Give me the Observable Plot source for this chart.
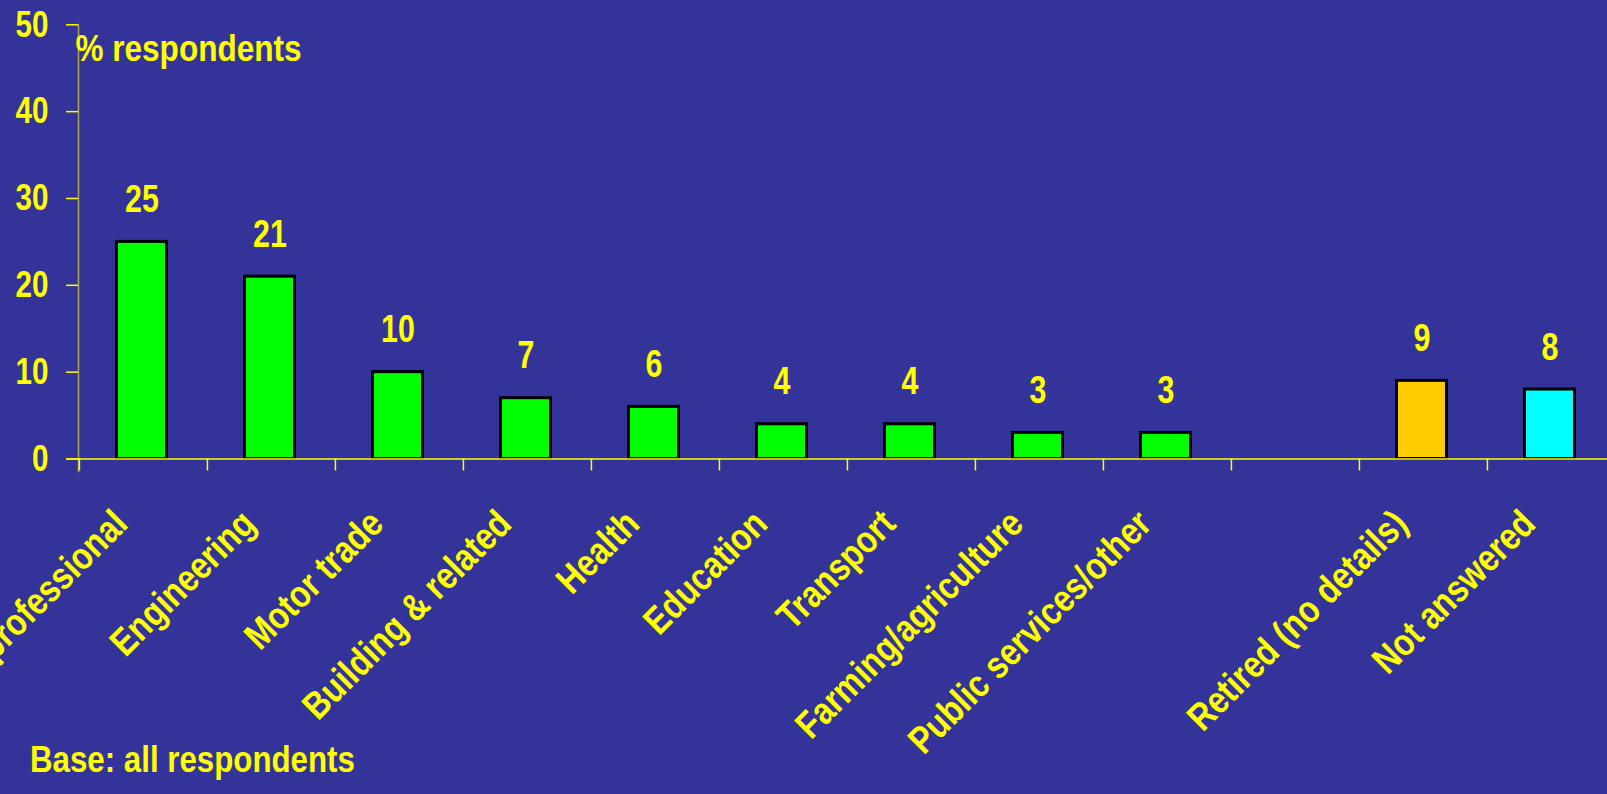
<!DOCTYPE html>
<html><head><meta charset="utf-8">
<script src="https://cdn.jsdelivr.net/npm/d3@7"></script>
<script src="https://cdn.jsdelivr.net/npm/@observablehq/plot@0.6"></script>
<style>
html,body{margin:0;padding:0;background:#333399;}
body{width:1607px;height:794px;overflow:hidden;}
#chart svg{display:block;}
#caption{font-family:"Liberation Sans",Arial,sans-serif;font-weight:bold;font-size:37px;color:#ffff00;line-height:38px;margin-left:30px;white-space:nowrap;display:inline-block;transform:scaleX(0.845);transform-origin:0 0;}
</style></head><body>
<div id="chart"></div>
<div id="caption"></div>
<script>
// ---- data ----
const categories = ["Managerial/professional","Engineering","Motor trade","Building & related","Health","Education","Transport","Farming/agriculture","Public services/other"," ","Retired (no details)","Not answered"];
const values = [25,21,10,7,6,4,4,3,3,null,9,8];
const groups = ["Occupation","Occupation","Occupation","Occupation","Occupation","Occupation","Occupation","Occupation","Occupation",null,"Retired","Not answered"];
const groupNames = ["Occupation","Retired","Not answered"];
const yTicks = [0,10,20,30,40,50];
const yLabel = "% respondents";
const captionText = "Base: all respondents";

// ---- build ----
const YELLOW = "#ffff00";
const FONT = '"Liberation Sans",Arial,sans-serif';
const W = 1607, H = 741;
const xRange = [78, 1616];
const step = (xRange[1] - xRange[0]) / categories.length;

const rows = categories.map((c, i) => ({category: c, value: values[i], group: groups[i]}))
  .filter(d => d.value != null);

const chart = Plot.plot({
  width: W,
  height: H,
  marginLeft: 78,
  marginRight: 0,
  marginTop: 24,
  marginBottom: 282,
  style: {background: "#333399", color: YELLOW, fontFamily: FONT, fontSize: "37px", fontWeight: "bold", overflow: "visible"},
  x: {domain: categories, range: xRange, paddingInner: 0.61, paddingOuter: 0.305, axis: null},
  y: {domain: [0, 50], range: [458.5, 24.3], axis: null},
  color: {domain: groupNames, range: ["#00ff00", "#ffcc00", "#00ffff"]},
  marks: [
    Plot.barY(rows, {x: "category", y: "value", fill: "group", stroke: "#000000", strokeWidth: 3, dx: -1.5}),
    Plot.frame({anchor: "left", stroke: "#a8a848", strokeWidth: 1.5, insetBottom: -12}),
    Plot.ruleX(categories, {x: d => d, y1: () => 0, y2: () => 0, insetBottom: -12, dx: -step / 2, stroke: YELLOW, strokeWidth: 1.5}),
    Plot.ruleY([0], {stroke: YELLOW, strokeWidth: 1.5, insetLeft: -12}),
    Plot.axisY(yTicks, {tickSize: 12, tickPadding: 18, stroke: YELLOW, fill: YELLOW, fontSize: 37, fontWeight: "bold", label: null, strokeWidth: 1.5}),
    Plot.text(rows, {x: "category", y: "value", text: d => String(d.value), dx: -1.5, dy: -42, fill: YELLOW, fontSize: 38, fontWeight: "bold"}),
    Plot.text(rows, {x: "category", y: () => 0, text: "category", rotate: -45, textAnchor: "end", lineAnchor: "bottom", dx: -14, dy: 67, fill: YELLOW, fontSize: 38, fontWeight: "bold"}),
    Plot.text([yLabel], {frameAnchor: "top-left", textAnchor: "start", lineAnchor: "bottom", dx: -3, dy: 36, fill: YELLOW, fontSize: 37, fontWeight: "bold"})
  ]
});
document.getElementById("chart").appendChild(chart);
document.getElementById("caption").textContent = captionText;

// condense glyphs horizontally (the original uses a narrow face)
d3.select(chart).selectAll("text").each(function () {
  const s = this.textContent.trim();
  if (!s) return;
  const rotated = /rotate/.test(this.getAttribute("transform") || "");
  const factor = /^\d+$/.test(s) ? 0.8 : rotated ? 0.85 : 0.852;
  const L = this.getComputedTextLength();
  if (L > 0) {
    this.setAttribute("textLength", (L * factor).toFixed(2));
    this.setAttribute("lengthAdjust", "spacingAndGlyphs");
  }
});
</script>
</body></html>
